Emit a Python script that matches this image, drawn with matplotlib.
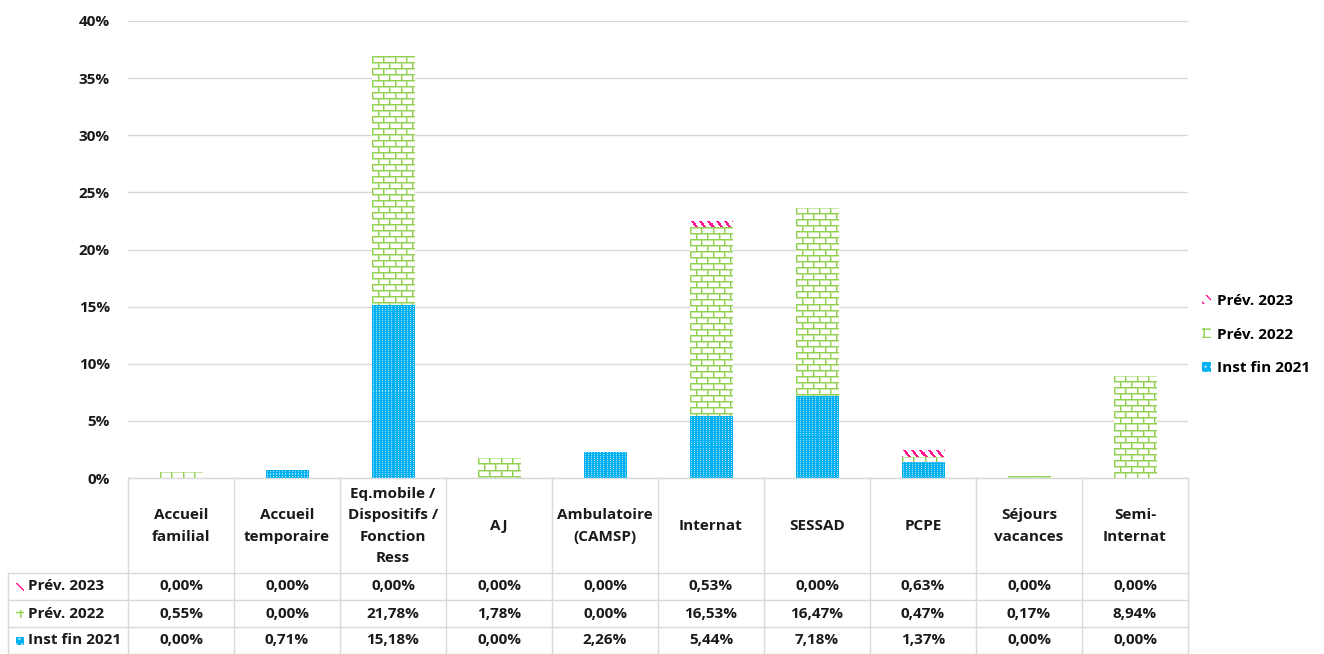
import matplotlib.pyplot as plt
import numpy as np
from matplotlib.patches import Patch, Rectangle

plt.rcParams['font.family'] = ['Open Sans', 'DejaVu Sans']
plt.rcParams['font.weight'] = 'bold'

categories = ["Accueil\nfamilial", "Accueil\ntemporaire", "Eq.mobile /\nDispositifs /\nFonction\nRess",
              "AJ", "Ambulatoire\n(CAMSP)", "Internat", "SESSAD", "PCPE", "Séjours\nvacances", "Semi-\nInternat"]
inst_2021 = [0.00, 0.71, 15.18, 0.00, 2.26, 5.44, 7.18, 1.37, 0.00, 0.00]
prev_2022 = [0.55, 0.00, 21.78, 1.78, 0.00, 16.53, 16.47, 0.47, 0.17, 8.94]
prev_2023 = [0.00, 0.00, 0.00, 0.00, 0.00, 0.53, 0.00, 0.63, 0.00, 0.00]
series_names = ["Inst fin 2021", "Prév. 2022", "Prév. 2023"]

BLUE = '#00B0F0'
GREEN = '#92D050'
PINK = '#FF1493'
TXT = '#1a1a1a'
FS = 11

W, H = 1324, 654
fig = plt.figure(figsize=(W / 100, H / 100), dpi=100)
ax = fig.add_axes([128 / W, (654 - 478) / H, 1060 / W, 457 / H])
ax.set_xlim(-0.5, 9.5)
ax.set_ylim(0, 40)
px_per_y = 457 / 40
px_per_x = 1060 / 10


def rgb(h):
    h = h.lstrip('#')
    return [int(h[i:i + 2], 16) / 255 for i in (0, 2, 4)]


# pattern functions: 0 = background, 1 = line, 2 = soft line edge
def brick(r, c):
    off = 5 if (r // 6) % 2 else 0
    if r % 6 == 0 or (c + off) % 11 == 0:
        return 1
    if r % 6 == 1 or (c + off) % 11 == 1:
        return 2
    return 0


def dots(r, c):
    return 1 if (c % 3 == 1 and r % 2 == 0) else 0


def stripes(r, c):
    return 1 if (c - r) % 8 < 3 else 0


def texture(bar, fn, fg, bg, soft=None):
    x0, y0 = bar.get_x(), bar.get_y()
    w, h = bar.get_width(), bar.get_height()
    if h <= 0:
        return
    nr = max(1, int(round(h * px_per_y)))
    nc = max(1, int(round(w * px_per_x)))
    cols = [rgb(bg), rgb(fg), rgb(soft or fg)]
    img = np.zeros((nr, nc, 3))
    for r in range(nr):
        for c in range(nc):
            img[r, c] = cols[fn(r, c)]
    im = ax.imshow(img, extent=(x0, x0 + w, y0, y0 + h), origin='upper',
                   interpolation='nearest', aspect='auto', zorder=3)
    im.set_clip_path(bar)


x = np.arange(len(categories))
bw = 0.4
b1 = ax.bar(x, inst_2021, bw, color='none', edgecolor='none', zorder=2)
b2 = ax.bar(x, prev_2022, bw, bottom=inst_2021, color='none', edgecolor='none', zorder=2)
bot3 = np.array(inst_2021) + np.array(prev_2022)
b3 = ax.bar(x, prev_2023, bw, bottom=bot3, color='none', edgecolor='none', zorder=2)
for b in b1:
    texture(b, dots, '#a6e3fa', BLUE)
for b in b2:
    texture(b, brick, GREEN, '#ffffff', '#c9e7ab')
for b in b3:
    texture(b, stripes, PINK, '#ffffff')
ax.set_xlim(-0.5, 9.5)
ax.set_ylim(0, 40)

ax.set_yticks(np.arange(0, 41, 5))
ax.set_yticklabels([f'{v}%' for v in range(0, 41, 5)], fontsize=FS, color=TXT, fontweight='bold')
ax.tick_params(axis='y', length=0, pad=13)
ax.set_xticks([])
ax.grid(axis='y', color='#d9d9d9', linewidth=1)
ax.set_axisbelow(True)
for s in ax.spines.values():
    s.set_visible(False)

# legend
handles = [Patch(facecolor='white', edgecolor=PINK, hatch='\\\\\\', linewidth=0),
           Patch(facecolor='white', edgecolor=GREEN, hatch='++', linewidth=0),
           Patch(facecolor=BLUE, edgecolor='#a6e3fa', hatch='...', linewidth=0)]
fig.legend(handles, series_names[::-1], loc='upper left', bbox_to_anchor=(1188 / W, 1 - 280 / H),
           frameon=False, handlelength=0.6, handleheight=0.6, handletextpad=0.4,
           labelspacing=1.3, prop={'weight': 'bold', 'size': FS})

# data table
tx = fig.add_axes([8 / W, 0, 1180 / W, 176 / H])
left = -0.5 - 120 / px_per_x
tx.set_xlim(left, 9.5)
tx.set_ylim(654, 478)
tx.axis('off')
lc = '#d9d9d9'
row_tops = [573, 600, 627]
for i in range(len(categories) + 1):
    tx.plot([i - 0.5, i - 0.5], [478, 654], color=lc, lw=1, clip_on=False)
tx.plot([left, left], [573, 654], color=lc, lw=1, clip_on=False)
tx.plot([-0.5, 9.5], [478, 478], color=lc, lw=1, clip_on=False)
for yy in row_tops + [653.5]:
    tx.plot([left, 9.5], [yy, yy], color=lc, lw=1, clip_on=False)

for i, cat in enumerate(categories):
    tx.text(i, 526, cat, ha='center', va='center', fontsize=FS, color=TXT,
            fontweight='bold', linespacing=1.65)

rows = [(series_names[2], prev_2023, handles[0]),
        (series_names[1], prev_2022, handles[1]),
        (series_names[0], inst_2021, handles[2])]
for (name, vals, h), top in zip(rows, row_tops):
    yc = top + 13.5
    tx.add_patch(Rectangle((left + 8 / px_per_x, yc - 4), 8 / px_per_x, 8,
                           facecolor=h.get_facecolor(), edgecolor=h.get_edgecolor(),
                           hatch=h.get_hatch(), linewidth=0))
    tx.text(left + 20 / px_per_x, yc, name, ha='left', va='center', fontsize=FS,
            color=TXT, fontweight='bold')
    for i, v in enumerate(vals):
        tx.text(i, yc, f'{v:.2f}'.replace('.', ',') + '%', ha='center', va='center',
                fontsize=FS, color=TXT, fontweight='bold')

fig.savefig('out.png', dpi=100)
